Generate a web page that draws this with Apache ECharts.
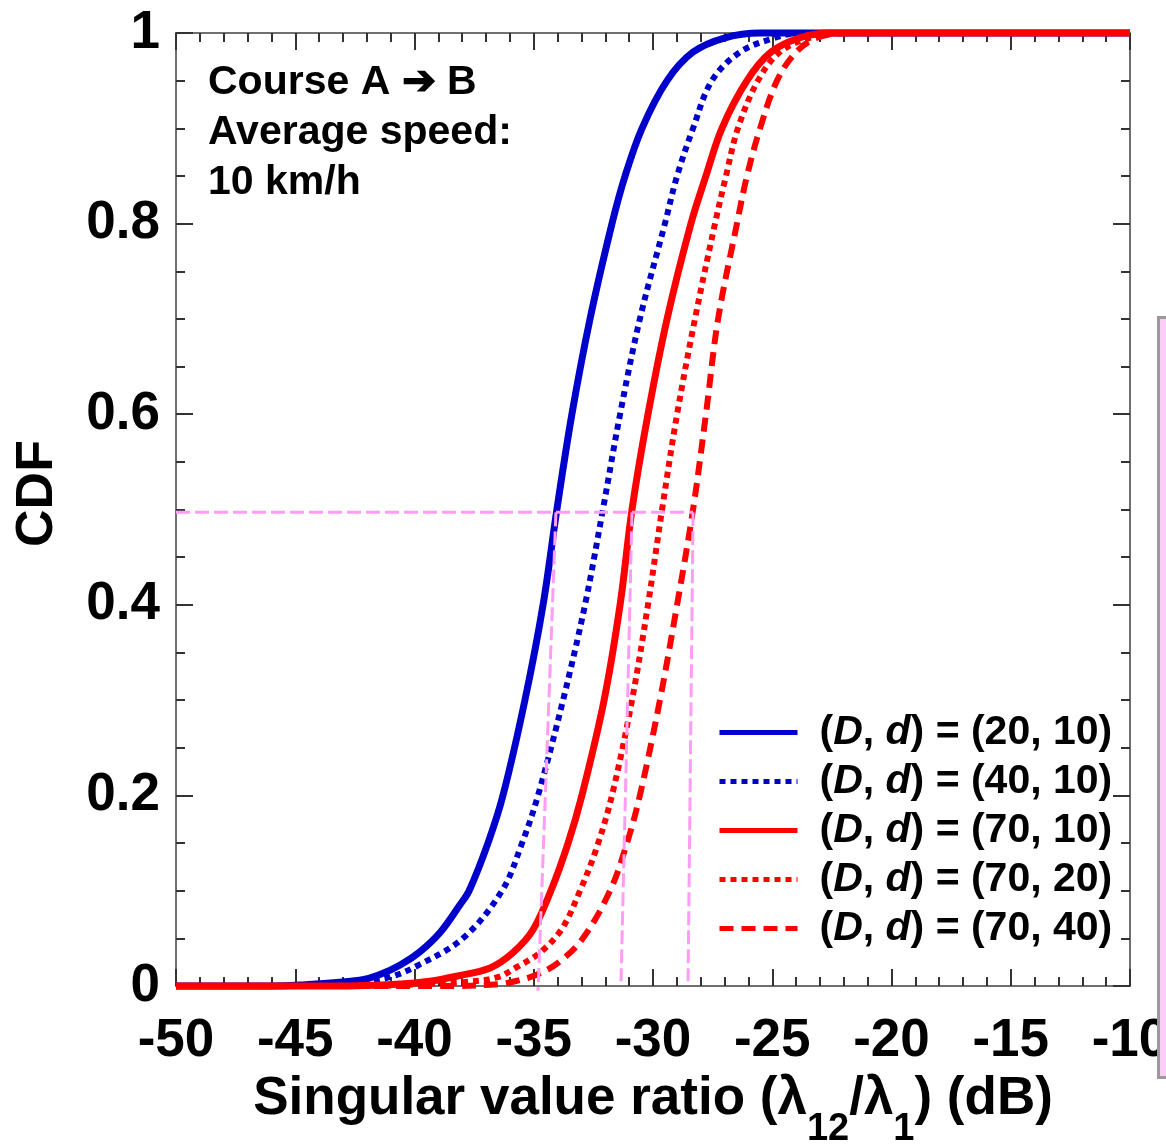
<!DOCTYPE html>
<html>
<head>
<meta charset="utf-8">
<script src="https://cdn.jsdelivr.net/npm/echarts@6/dist/echarts.min.js"></script>
<style>
  html, body { margin: 0; padding: 0; background: #ffffff; }
  #chart { width: 1166px; height: 1144px; }
</style>
</head>
<body>
<div id="chart"></div>
<script>
// CDF of the singular value ratio (dB), one curve per (D, d) setting
const seriesNames = [
  '(D, d) = (20, 10)',
  '(D, d) = (40, 10)',
  '(D, d) = (70, 10)',
  '(D, d) = (70, 20)',
  '(D, d) = (70, 40)'
];

const cdf_20_10 = [
  [-50, 0], [-46, 0], [-44.8, 0.001], [-42.3, 0.006], [-41.45, 0.012], [-40.6, 0.022],
  [-39.77, 0.036], [-38.9, 0.057], [-38.1, 0.085], [-37.71, 0.1], [-36.92, 0.15],
  [-36.29, 0.2], [-35.37, 0.3], [-34.61, 0.4], [-34.03, 0.5], [-33.4, 0.6],
  [-32.64, 0.7], [-31.72, 0.8], [-31.17, 0.85], [-30.46, 0.9], [-29.41, 0.95],
  [-28.32, 0.98], [-26.98, 0.995], [-25.51, 1], [-10, 1]
];
const cdf_40_10 = [
  [-50, 0], [-45.5, 0], [-43.96, 0.001], [-41.95, 0.005], [-40.94, 0.01], [-39.98, 0.02],
  [-37.97, 0.05], [-36.33, 0.1], [-35.49, 0.15], [-34.82, 0.2], [-33.77, 0.3],
  [-32.85, 0.4], [-32.1, 0.5], [-31.38, 0.6], [-30.55, 0.7], [-29.5, 0.8],
  [-28.99, 0.85], [-28.32, 0.9], [-27.53, 0.95], [-26.35, 0.98], [-24.88, 0.995],
  [-23.84, 1], [-10, 1]
];
const cdf_70_10 = [
  [-50, 0], [-43, 0], [-41.4, 0.001], [-40.61, 0.002], [-39.35, 0.005], [-38.3, 0.01],
  [-36.83, 0.019], [-35.87, 0.035], [-35.03, 0.059], [-34.28, 0.1], [-33.56, 0.15],
  [-32.98, 0.2], [-32.05, 0.3], [-31.38, 0.4], [-30.88, 0.5], [-30.21, 0.6],
  [-29.41, 0.7], [-28.41, 0.8], [-27.78, 0.85], [-27.11, 0.9], [-26.06, 0.95],
  [-25.05, 0.98], [-23.84, 0.995], [-22.58, 1], [-10, 1]
];
const cdf_70_20 = [
  [-50, 0], [-42, 0], [-39.77, 0.002], [-37.97, 0.004], [-36.54, 0.009], [-35.7, 0.02],
  [-34.74, 0.035], [-33.82, 0.06], [-33.06, 0.1], [-32.39, 0.143], [-31.72, 0.2],
  [-30.88, 0.3], [-30.21, 0.4], [-29.62, 0.5], [-28.99, 0.6], [-28.24, 0.7],
  [-27.4, 0.8], [-26.94, 0.85], [-26.44, 0.9], [-25.6, 0.95], [-24.68, 0.98],
  [-23.42, 0.995], [-21.95, 1], [-10, 1]
];
const cdf_70_40 = [
  [-50, 0], [-38.5, 0], [-36.42, 0.002], [-35.79, 0.005], [-34.86, 0.012], [-33.94, 0.025],
  [-32.94, 0.05], [-31.8, 0.1], [-31.09, 0.15], [-30.55, 0.2], [-29.71, 0.3],
  [-28.99, 0.4], [-28.32, 0.5], [-27.78, 0.6], [-27.27, 0.7], [-26.48, 0.8],
  [-26.06, 0.85], [-25.51, 0.9], [-24.8, 0.95], [-24.0, 0.98], [-23.12, 0.995],
  [-21.74, 1], [-10, 1]
];

// median guide lines: horizontal level and the three vertical drops
const medianLevel = 0.497;
const medianGuideH = [[-50, medianLevel], [-28.32, medianLevel]];
const medianDrops = [
  [[-34.07, medianLevel], [-34.82, -0.005]],
  [[-30.88, medianLevel], [-31.34, 0.005]],
  [[-28.32, medianLevel], [-28.53, 0.005]]
];

const xTicks = { min: -50, max: -10, interval: 5 };
const yTicks = { min: 0, max: 1, interval: 0.2 };

const FONT = '"Liberation Sans", Arial, sans-serif';
const BLUE = '#0000cc';
const RED = '#ff0000';
const PINK = '#ff9cf4';

const chart = echarts.init(document.getElementById('chart'), null, { renderer: 'canvas' });

function curve(name, data, color, width, type) {
  return {
    name: name,
    type: 'line',
    data: data,
    showSymbol: false,
    symbol: 'none',
    smooth: 0.35,
    clip: false,
    z: 3,
    lineStyle: { color: color, width: width, type: type, cap: 'butt', join: 'round' },
    itemStyle: { color: color },
    emphasis: { disabled: true }
  };
}

function guide(data) {
  return {
    type: 'line',
    data: data,
    showSymbol: false,
    symbol: 'none',
    clip: false,
    silent: true,
    z: 4,
    lineStyle: { color: PINK, width: 3, type: [14, 5] },
    emphasis: { disabled: true }
  };
}

const axisCommon = {
  type: 'value',
  splitLine: { show: false },
  axisLine: { show: true, onZero: false, lineStyle: { color: '#707070', width: 2 } },
  axisTick: { show: true, inside: true, length: 17, lineStyle: { color: '#333', width: 2 } },
  minorTick: { show: true, length: 9, lineStyle: { color: '#333', width: 2 } },
  minorSplitLine: { show: false }
};

const legendFont = { fontFamily: FONT, fontSize: 41, fontWeight: 'bold', color: '#000' };
const titleFont = { fontFamily: FONT, fontSize: 53, fontWeight: 'bold', color: '#000' };

const option = {
  backgroundColor: '#ffffff',
  animation: false,
  grid: { left: 176, right: 36, top: 33, bottom: 158, containLabel: false, outerBoundsMode: 'none' },
  legend: {
    data: seriesNames,
    orient: 'vertical',
    left: 712,
    top: 707,
    itemWidth: 78,
    itemHeight: 20,
    itemGap: 8,
    selectedMode: false,
    itemStyle: { opacity: 0, borderWidth: 0 },
    lineStyle: { width: 5 },
    formatter: function (name) {
      return '{p|(}{i|D}{n|, }{i|d}{n|)' + name.slice(6) + '}';
    },
    textStyle: Object.assign({}, legendFont, {
      rich: {
        p: Object.assign({}, legendFont, { padding: [0, 0, 0, 17] }),
        n: Object.assign({}, legendFont),
        i: Object.assign({}, legendFont, { fontStyle: 'italic' })
      }
    })
  },
  xAxis: [
    Object.assign({}, axisCommon, {
      position: 'bottom',
      min: xTicks.min, max: xTicks.max, interval: xTicks.interval,
      minorTick: Object.assign({}, axisCommon.minorTick, { splitNumber: 5 }),
      axisLabel: { fontFamily: FONT, fontSize: 53, fontWeight: 'bold', color: '#000', margin: 29 }
    }),
    Object.assign({}, axisCommon, {
      position: 'top',
      min: xTicks.min, max: xTicks.max, interval: xTicks.interval,
      minorTick: Object.assign({}, axisCommon.minorTick, { splitNumber: 5 }),
      axisLabel: { show: false }
    })
  ],
  yAxis: [
    Object.assign({}, axisCommon, {
      position: 'left',
      min: yTicks.min, max: yTicks.max, interval: yTicks.interval,
      minorTick: Object.assign({}, axisCommon.minorTick, { splitNumber: 4 }),
      axisLabel: { fontFamily: FONT, fontSize: 53, fontWeight: 'bold', color: '#000', margin: 16 },
      name: 'CDF',
      nameLocation: 'middle',
      nameRotate: 90,
      nameGap: 112,
      nameTextStyle: { fontFamily: FONT, fontSize: 52, fontWeight: 'bold', color: '#000', padding: [0, 0, 0, 32] }
    }),
    Object.assign({}, axisCommon, {
      position: 'right',
      min: yTicks.min, max: yTicks.max, interval: yTicks.interval,
      minorTick: Object.assign({}, axisCommon.minorTick, { splitNumber: 4 }),
      axisLabel: { show: false }
    })
  ],
  graphic: [
    {
      // x-axis title with subscripts
      type: 'text',
      x: 653,
      y: 1080,
      z: 10,
      style: {
        text: '{t|Singular value ratio (λ}{s|12}{t|/λ}{s|1}{t|) (dB)}',
        align: 'center',
        verticalAlign: 'top',
        rich: {
          t: Object.assign({}, titleFont, { lineHeight: 58, padding: [0, 0, 20, 0] }),
          s: { fontFamily: FONT, fontSize: 38, fontWeight: 'bold', color: '#000', lineHeight: 40, padding: [41, 0, 0, 0] }
        }
      }
    },
    {
      type: 'text',
      left: 208,
      top: 58,
      z: 10,
      style: {
        text: 'Course A \u2794 B\nAverage speed:\n10 km/h',
        font: 'bold 41px ' + FONT,
        fill: '#000',
        lineHeight: 50
      }
    },
    {
      type: 'rect',
      left: 1157,
      top: 316,
      z: 100,
      shape: { x: 0, y: 0, width: 30, height: 760 },
      style: { fill: '#fccdf6', stroke: '#9a9a9a', lineWidth: 3 }
    }
  ],
  series: [
    curve(seriesNames[0], cdf_20_10, BLUE, 7, 'solid'),
    curve(seriesNames[1], cdf_40_10, BLUE, 6, [6, 5]),
    curve(seriesNames[2], cdf_70_10, RED, 7, 'solid'),
    curve(seriesNames[3], cdf_70_20, RED, 6, [6, 5]),
    curve(seriesNames[4], cdf_70_40, RED, 6, [14, 8]),
    guide(medianGuideH),
    guide(medianDrops[0]),
    guide(medianDrops[1]),
    guide(medianDrops[2])
  ]
};

chart.setOption(option);
</script>
</body>
</html>
